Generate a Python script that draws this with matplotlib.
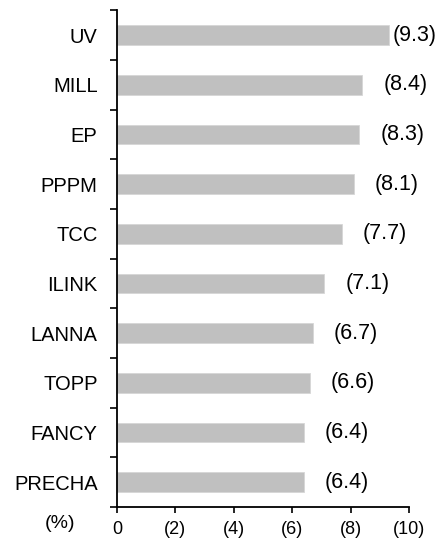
import matplotlib
matplotlib.use('Agg')
import matplotlib.pyplot as plt
import numpy as np

plt.rcParams['font.family'] = ['Liberation Sans', 'DejaVu Sans']

# data, top to bottom
names = ['UV', 'MILL', 'EP', 'PPPM', 'TCC', 'ILINK', 'LANNA', 'TOPP', 'FANCY', 'PRECHA']
vals = np.array([9.3, 8.4, 8.3, 8.1, 7.7, 7.1, 6.7, 6.6, 6.4, 6.4])
xticks = [0, 2, 4, 6, 8, 10]
xlabels = ['0', '(2)', '(4)', '(6)', '(8)', '(10)']

fig = plt.figure(figsize=(4.38, 5.40), dpi=100)
ax = fig.add_axes([0.267, 0.061, 0.667, 0.920])

pos = np.arange(len(names))[::-1]
ax.barh(pos, vals, height=0.4, color='#c0c0c0', edgecolor='#d6d6d6', linewidth=0.6)

# value labels in brackets, last one pulled in so it fits
lab_x = np.minimum(vals + 0.72, 9.42)
for y, v, lx in zip(pos, vals, lab_x):
    ax.text(lx, y, '(%.1f)' % v, ha='left', va='center', fontsize=15.5)

ax.set_xlim(0, 10)
ax.set_ylim(-0.5, len(names) - 0.5)
ax.set_xticks(xticks)
ax.set_xticklabels(xlabels, fontsize=13)

ax.set_yticks(pos)
ax.set_yticklabels(names, fontsize=14.5)
ax.tick_params(axis='y', which='major', length=0, pad=14)
ax.set_yticks(np.arange(len(names) + 1) - 0.5, minor=True)
ax.tick_params(axis='y', which='minor', length=5, width=1.2, direction='out')
ax.tick_params(axis='x', length=4, width=1.2, direction='out', pad=6)

for s in ['top', 'right']:
    ax.spines[s].set_visible(False)
for s in ['left', 'bottom']:
    ax.spines[s].set_linewidth(1.3)

fig.text(59.5 / 438, 1 - 523 / 540, '(%)', ha='center', va='center', fontsize=14)

fig.savefig('out.png', dpi=100)
